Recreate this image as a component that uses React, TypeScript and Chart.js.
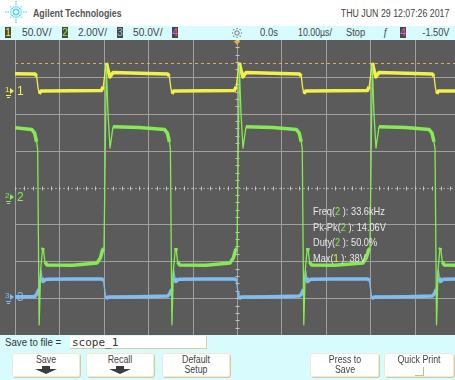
import React, { useEffect, useRef } from 'react';
import { Chart, registerables } from 'chart.js';

Chart.register(...registerables);

// ---- Scope settings / axes ----
const timeTicks = [-50, -40, -30, -20, -10, 0, 10, 20, 30, 40, 50]; // µs, 10 µs/div
const divTicks = [-4, -3, -2, -1, 0, 1, 2, 3, 4]; // vertical divisions
const channelScale = [50, 2, 50]; // V/div for channels 1,2,3
const channelOffset = [2.62, -0.25, -2.96]; // ground reference, in divisions
const ch1MaxCursor = 38; // Max(1): 38V

// ---- Traces: [time µs, volts] ----
const ch1Trace: [number, number][] = [
  [-50, 23.4],
  [-45.51, 23.0], [-45.13, 20], [-44.83, 5], [-44.54, -3.8], [-44.16, -0.3], [-43.55, 0],
  [-37, 0.2],
  [-30.56, 0.4], [-30.13, 5.5], [-29.72, 25], [-29.39, 38], [-29.05, 28], [-28.6, 19], [-28.26, 22], [-27.92, 24.8],
  [-22, 23.8],
  [-15.61, 22.9], [-15.23, 20], [-14.93, 5], [-14.64, -3.8], [-14.26, -0.3], [-13.65, 0],
  [-7, 0.2],
  [-0.61, 0.4], [-0.18, 5.5], [0.23, 25], [0.56, 38], [0.9, 28], [1.35, 19], [1.69, 22], [2.03, 24.8],
  [8, 23.8],
  [14.09, 22.9], [14.47, 20], [14.77, 5], [15.06, -3.8], [15.44, -0.3], [16.05, 0],
  [22, 0.2],
  [29.34, 0.4], [29.77, 5.5], [30.18, 25], [30.51, 38], [30.85, 28], [31.3, 19], [31.64, 22], [31.98, 24.8],
  [38, 23.8],
  [43.99, 22.9], [44.37, 20], [44.67, 5], [44.96, -3.8], [45.34, -0.3], [45.95, 0],
  [50, 0],
];

const ch2Trace: [number, number][] = [
  [-50, 3.74],
  [-46.25, 3.65], [-45.58, 3.45], [-45.13, 2.98], [-44.9, 2.6], [-44.56, -6.95], [-44.22, -3.97], [-43.82, -2.89], [-43.64, -2.78], [-43.26, -3.54], [-42.81, -3.7],
  [-37, -3.72],
  [-31.53, -3.6], [-30.74, -3.3], [-30.29, -2.9], [-29.95, -2.8], [-29.43, 7.1], [-29.05, 4.5], [-28.6, 2.64], [-27.92, 3.8],
  [-22, 3.76],
  [-16.35, 3.65], [-15.68, 3.45], [-15.23, 2.98], [-15.0, 2.6], [-14.66, -6.95], [-14.32, -3.97], [-13.92, -2.89], [-13.74, -2.78], [-13.36, -3.54], [-12.91, -3.7],
  [-7, -3.72],
  [-1.58, -3.6], [-0.79, -3.3], [-0.34, -2.9], [0, -2.8], [0.52, 7.1], [0.9, 4.5], [1.35, 2.64], [2.03, 3.8],
  [8, 3.76],
  [13.35, 3.65], [14.02, 3.45], [14.47, 2.98], [14.7, 2.6], [15.04, -6.95], [15.38, -3.97], [15.78, -2.89], [15.96, -2.78], [16.34, -3.54], [16.79, -3.7],
  [22, -3.72],
  [28.37, -3.6], [29.16, -3.3], [29.61, -2.9], [29.95, -2.8], [30.47, 7.1], [30.85, 4.5], [31.3, 2.64], [31.98, 3.8],
  [38, 3.76],
  [43.25, 3.65], [43.92, 3.45], [44.37, 2.98], [44.6, 2.6], [44.94, -6.95], [45.28, -3.97], [45.68, -2.89], [45.86, -2.78], [46.24, -3.54], [46.69, -3.7],
  [50, -3.72],
];

const ch3Trace: [number, number][] = [
  [-50, 0],
  [-45.58, 0.3], [-45.13, 3], [-44.61, 10], [-44.38, 25], [-44.16, 36], [-43.93, 26], [-43.71, 20.5], [-43.03, 23.5],
  [-37, 24],
  [-30.4, 24], [-30.06, 22], [-29.72, 5], [-29.5, -3], [-29.05, -0.5],
  [-22, 0],
  [-15.68, 0.8], [-15.23, 3], [-14.71, 10], [-14.48, 25], [-14.26, 36], [-14.03, 26], [-13.81, 20.5], [-13.13, 23.5],
  [-7, 24],
  [-0.45, 24], [-0.11, 22], [0.23, 5], [0.45, -3], [0.9, -0.5],
  [8, 0],
  [14.02, 0.8], [14.47, 3], [14.99, 10], [15.22, 25], [15.44, 36], [15.67, 26], [15.89, 20.5], [16.57, 23.5],
  [22, 24],
  [29.5, 24], [29.84, 22], [30.18, 5], [30.4, -3], [30.85, -0.5],
  [38, 0],
  [43.92, 0.8], [44.37, 3], [44.89, 10], [45.12, 25], [45.34, 36], [45.57, 26], [45.79, 20.5], [46.47, 23.5],
  [50, 24],
];

const channelLabels = ['1', '2', '3'];

// ---- Styling ----
const FONT = '"Liberation Sans", Arial, sans-serif';
const CYAN = '#d8fbfd';
const PLOT_BG = '#5b5b5b';
const GRID = '#a0a0a0';
const YELLOW = '#f4f04a';
const GREEN = '#86ea52';
const BLUE = '#80bef2';
const PINK = '#e858e0';
const channelColors = [YELLOW, GREEN, BLUE];

const toDiv = (ch: number, v: number) => channelOffset[ch] + v / channelScale[ch];

const decor = {
  id: 'scopeDecor',
  beforeDatasetsDraw(chart: any) {
    const { ctx, chartArea, scales } = chart;
    const { left, right, top, bottom } = chartArea;
    const x = scales.x;
    const y = scales.y;
    ctx.save();
    ctx.strokeStyle = GRID;
    ctx.lineWidth = 1;
    ctx.beginPath();
    for (const t of timeTicks) {
      const px = Math.round(x.getPixelForValue(t)) + 0.5;
      ctx.moveTo(px, top);
      ctx.lineTo(px, bottom);
    }
    for (const d of divTicks) {
      if (d === 0 || d === divTicks[0] || d === divTicks[divTicks.length - 1]) continue;
      const py = Math.round(y.getPixelForValue(d)) + 0.5;
      ctx.moveTo(left, py);
      ctx.lineTo(right, py);
    }
    ctx.stroke();
    // center horizontal (dotted)
    const cy = Math.round(y.getPixelForValue(0)) + 0.5;
    const cx = Math.round(x.getPixelForValue(0)) + 0.5;
    ctx.setLineDash([2, 2]);
    ctx.beginPath();
    ctx.moveTo(left, cy);
    ctx.lineTo(right, cy);
    ctx.stroke();
    ctx.setLineDash([]);
    // minor ticks on center axes (5 per division)
    ctx.strokeStyle = '#c4c4c4';
    ctx.beginPath();
    const stepT = (timeTicks[1] - timeTicks[0]) / 5;
    for (let t = timeTicks[0]; t <= timeTicks[timeTicks.length - 1] + 1e-6; t += stepT) {
      const px = Math.round(x.getPixelForValue(t)) + 0.5;
      ctx.moveTo(px, cy - 2);
      ctx.lineTo(px, cy + 2);
    }
    const stepD = (divTicks[1] - divTicks[0]) / 5;
    for (let d = divTicks[0]; d <= divTicks[divTicks.length - 1] + 1e-6; d += stepD) {
      const py = Math.round(y.getPixelForValue(d)) + 0.5;
      ctx.moveTo(cx - 2, py);
      ctx.lineTo(cx + 2, py);
    }
    ctx.stroke();
    // Max cursor (channel 1)
    const my = Math.round(y.getPixelForValue(toDiv(0, ch1MaxCursor))) + 0.5;
    ctx.strokeStyle = '#cdb45c';
    ctx.setLineDash([3, 3]);
    ctx.beginPath();
    ctx.moveTo(left, my);
    ctx.lineTo(right, my);
    ctx.stroke();
    ctx.restore();
  },
  afterDatasetsDraw(chart: any) {
    const { ctx, chartArea, scales } = chart;
    const x = scales.x;
    const y = scales.y;
    ctx.save();
    channelLabels.forEach((lab, i) => {
      const gy = Math.round(y.getPixelForValue(channelOffset[i]));
      const col = channelColors[i];
      ctx.fillStyle = col;
      ctx.strokeStyle = col;
      ctx.textBaseline = 'middle';
      ctx.font = `8px ${FONT}`;
      ctx.fillText(lab, 5, gy - 1);
      ctx.beginPath();
      ctx.moveTo(10, gy - 3);
      ctx.lineTo(14, gy);
      ctx.lineTo(10, gy + 3);
      ctx.closePath();
      ctx.fill();
      ctx.lineWidth = 1;
      ctx.beginPath();
      ctx.moveTo(6, gy + 4.5);
      ctx.lineTo(11, gy + 4.5);
      ctx.moveTo(7, gy + 6.5);
      ctx.lineTo(10, gy + 6.5);
      ctx.stroke();
      ctx.font = `12px ${FONT}`;
      ctx.fillText(lab, 17, gy + 0.5);
    });
    // trigger position marker
    const tx = x.getPixelForValue(0);
    ctx.fillStyle = '#f0a818';
    ctx.beginPath();
    ctx.moveTo(tx - 3.5, chartArea.top + 1);
    ctx.lineTo(tx + 3.5, chartArea.top + 1);
    ctx.lineTo(tx, chartArea.top + 5);
    ctx.closePath();
    ctx.fill();
    ctx.restore();
  },
};

function T({ x, b, s, c = '#333', w = 400, a = 'left', sx = 0.88, f = FONT, children }: any) {
  const top = b - 0.847 * s;
  const transform = a === 'center' ? `translateX(-50%) scaleX(${sx})` : `scaleX(${sx})`;
  const origin = a === 'left' ? 'left top' : a === 'right' ? 'right top' : 'center top';
  const pos = a === 'right' ? { right: 455 - x } : { left: x };
  return (
    <span
      style={{
        position: 'absolute',
        top,
        ...pos,
        fontSize: s,
        lineHeight: `${s}px`,
        color: c,
        fontWeight: w,
        fontFamily: f,
        whiteSpace: 'pre',
        transform,
        transformOrigin: origin,
      }}
    >
      {children}
    </span>
  );
}

function ChBox({ x, label, color }: any) {
  return (
    <div
      style={{
        position: 'absolute',
        left: x,
        top: 27,
        width: 6,
        height: 11,
        background: '#4c4838',
        color,
        fontSize: 10,
        lineHeight: '11px',
        textAlign: 'center',
        fontFamily: FONT,
      }}
    >
      {label}
    </div>
  );
}

function Btn({ x, w }: any) {
  return (
    <div
      style={{
        position: 'absolute',
        left: x,
        top: 353,
        width: w,
        height: 24,
        background: '#ffffff',
        borderRadius: 3,
        boxShadow: '1px 1px 0 #d4ca9c, inset 0 0 0 1px #efe9d6',
      }}
    />
  );
}

function Arrow({ cx }: any) {
  return (
    <svg style={{ position: 'absolute', left: cx - 11, top: 366 }} width={22} height={8}>
      <polygon points="7,0 15,0 15,3 22,3 11,8 0,3 7,3" fill="#3c3c3c" />
    </svg>
  );
}

function Logo() {
  const rays = [];
  for (let i = 0; i < 16; i++) {
    const a = (i * Math.PI) / 8;
    const len = i % 4 === 0 ? 11 : i % 2 === 0 ? 8 : 6;
    rays.push(
      <line
        key={i}
        x1={16 + Math.cos(a) * 2}
        y1={12 + Math.sin(a) * 2}
        x2={16 + Math.cos(a) * len}
        y2={12 + Math.sin(a) * len}
        stroke="#2fd0ef"
        strokeWidth={1.2}
        strokeDasharray="1.5 1"
      />
    );
  }
  return (
    <svg style={{ position: 'absolute', left: 0, top: 0 }} width={32} height={25}>
      {rays}
    </svg>
  );
}

function Sun() {
  const dots = [];
  for (let i = 0; i < 8; i++) {
    const a = (i * Math.PI) / 4;
    dots.push(<circle key={i} cx={5 + Math.cos(a) * 4.5} cy={5 + Math.sin(a) * 4.5} r={0.7} fill="#777" />);
  }
  return (
    <svg style={{ position: 'absolute', left: 232, top: 28 }} width={10} height={10}>
      <circle cx={5} cy={5} r={2.2} fill="none" stroke="#777" strokeWidth={1} />
      {dots}
    </svg>
  );
}

export default function App() {
  const ref = useRef<HTMLCanvasElement>(null);
  useEffect(() => {
    document.body.style.margin = '0';
    const traces = [ch1Trace, ch2Trace, ch3Trace];
    const orders = [1, 0, 2];
    const datasets = traces.map((tr, i) => ({
      label: `CH${i + 1}`,
      data: tr.map(([t, v]) => ({ x: t, y: toDiv(i, v) })),
      borderColor: channelColors[i],
      borderWidth: 3.5,
      pointRadius: 0,
      tension: 0,
      fill: false,
      order: orders[i],
      borderJoinStyle: 'round' as const,
      segment: {
        borderWidth: (c: any) => {
          const dx = Math.abs(c.p1.x - c.p0.x);
          const dy = Math.abs(c.p1.y - c.p0.y);
          return dy > dx * 5 ? 1.3 : 3.5;
        },
      },
    }));
    const chart = new Chart(ref.current as HTMLCanvasElement, {
      type: 'line',
      data: { datasets },
      options: {
        animation: false,
        responsive: false,
        events: [],
        layout: { padding: { left: 15, right: 11, top: 0, bottom: 0 } },
        scales: {
          x: { type: 'linear', min: timeTicks[0], max: timeTicks[timeTicks.length - 1], display: false },
          y: { type: 'linear', min: divTicks[0], max: divTicks[divTicks.length - 1], display: false },
        },
        plugins: { legend: { display: false }, tooltip: { enabled: false } },
      },
      plugins: [decor],
    } as any);
    return () => chart.destroy();
  }, []);

  return (
    <div
      style={{
        position: 'absolute',
        left: 0,
        top: 0,
        width: 455,
        height: 380,
        overflow: 'hidden',
        background: '#ffffff',
        fontFamily: FONT,
      }}
    >
      {/* header */}
      <Logo />
      <T x={33} b={17.3} s={10.5} w={700} c="#555" sx={0.84}>Agilent Technologies</T>
      <T x={449} b={17.3} s={10} c="#444" a="right">THU JUN 29 12:07:26 2017</T>

      {/* settings strip */}
      <div style={{ position: 'absolute', left: 0, top: 26, width: 455, height: 14, background: CYAN }} />
      <ChBox x={5} label="1" color={YELLOW} />
      <T x={22} b={36.9} s={10} c="#444" sx={1.02}>50.0V/</T>
      <ChBox x={62} label="2" color={GREEN} />
      <T x={78} b={36.9} s={10} c="#444" sx={1.0}>2.00V/</T>
      <ChBox x={117} label="3" color={BLUE} />
      <T x={133} b={36.9} s={10} c="#444" sx={1.02}>50.0V/</T>
      <ChBox x={172} label="4" color={PINK} />
      <Sun />
      <T x={260} b={36.9} s={10} c="#444" sx={0.95}>0.0s</T>
      <T x={298} b={36.9} s={10} c="#444" sx={0.88}>10.00µs/</T>
      <T x={346} b={36.9} s={10} c="#444" sx={0.93}>Stop</T>
      <T x={383} b={36.9} s={10} c="#444" sx={0.95}>ƒ</T>
      <ChBox x={400} label="4" color={PINK} />
      <T x={449} b={36.9} s={10} c="#444" a="right" sx={0.92}>-1.50V</T>

      {/* plot */}
      <div style={{ position: 'absolute', left: 0, top: 40, width: 470, height: 295, background: PLOT_BG }}>
        <canvas ref={ref} width={470} height={295} style={{ display: 'block' }} />
      </div>

      {/* measurements */}
      <T x={313} b={215} s={10.5} c="#e8e8e8">Freq(<span style={{ color: GREEN }}>2</span> ): 33.6kHz</T>
      <T x={313} b={230.7} s={10.5} c="#e8e8e8">Pk-Pk(<span style={{ color: GREEN }}>2</span> ): 14.06V</T>
      <T x={313} b={246.2} s={10.5} c="#e8e8e8">Duty(<span style={{ color: GREEN }}>2</span> ): 50.0%</T>
      <T x={313} b={261.7} s={10.5} c="#e8e8e8">Max(<span style={{ color: YELLOW }}>1</span> ): 38V</T>

      {/* footer */}
      <div style={{ position: 'absolute', left: 0, top: 335, width: 455, height: 45, background: CYAN }} />
      <T x={5} b={346} s={10.5} c="#333" sx={0.92}>Save to file =</T>
      <div
        style={{
          position: 'absolute',
          left: 70,
          top: 336,
          width: 136,
          height: 12,
          background: '#ffffff',
          borderRight: '1px solid #d6cc9c',
          borderBottom: '1px solid #d6cc9c',
        }}
      />
      <T x={72} b={346} s={11} c="#333" sx={1} f='"DejaVu Sans Mono", monospace'>scope_1</T>

      <Btn x={12} w={68} />
      <T x={46} b={363.3} s={10} c="#444" a="center">Save</T>
      <Arrow cx={46} />

      <Btn x={86} w={68} />
      <T x={120} b={363.3} s={10} c="#444" a="center">Recall</T>
      <Arrow cx={120} />

      <Btn x={162} w={68} />
      <T x={196} b={363.3} s={10} c="#444" a="center">Default</T>
      <T x={196} b={373.8} s={10} c="#444" a="center">Setup</T>

      <Btn x={310} w={69} />
      <T x={344.5} b={363.3} s={10} c="#444" a="center">Press to</T>
      <T x={344.5} b={373.8} s={10} c="#444" a="center">Save</T>

      <Btn x={384} w={70} />
      <T x={419} b={363.3} s={10} c="#444" a="center">Quick Print</T>
      <div
        style={{
          position: 'absolute',
          left: 415,
          top: 367,
          width: 8,
          height: 8,
          borderRight: '1px solid #c8bc90',
          borderBottom: '1px solid #c8bc90',
        }}
      />
    </div>
  );
}
